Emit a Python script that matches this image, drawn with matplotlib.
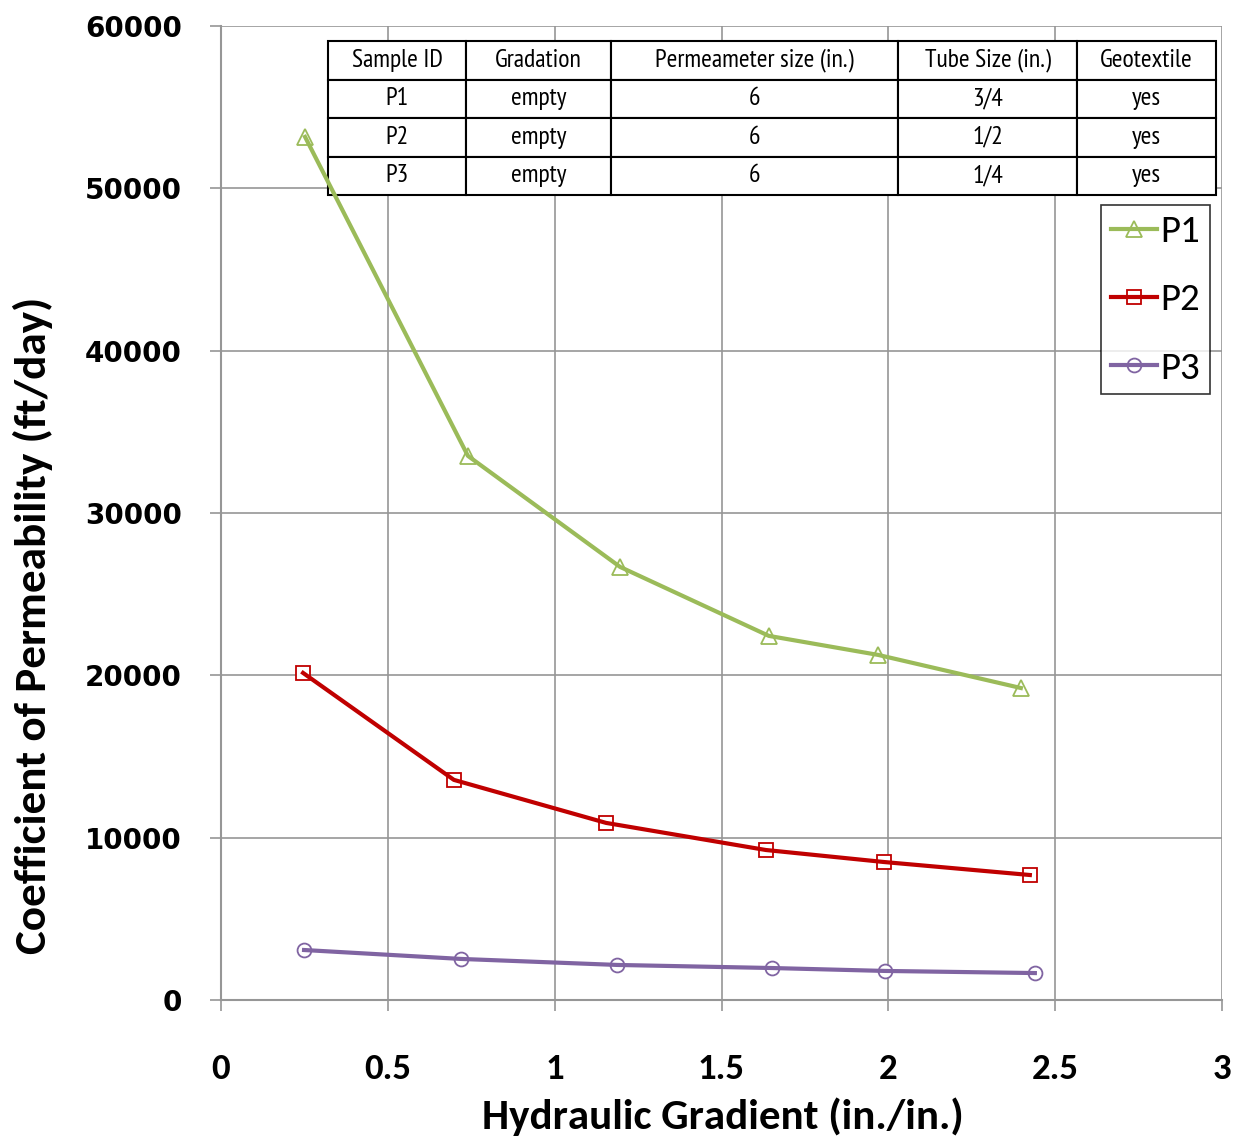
import matplotlib
matplotlib.use("Agg")
import matplotlib.pyplot as plt
from matplotlib.legend_handler import HandlerTuple

# data
p1_x = [0.252, 0.740, 1.196, 1.642, 1.969, 2.397]
p1_y = [53170, 33520, 26680, 22430, 21260, 19220]
p2_x = [0.246, 0.698, 1.154, 1.633, 1.987, 2.424]
p2_y = [20150, 13560, 10910, 9240, 8500, 7700]
p3_x = [0.249, 0.719, 1.187, 1.651, 1.990, 2.439]
p3_y = [3080, 2530, 2160, 1970, 1790, 1660]

table_cols = ["Sample ID", "Gradation", "Permeameter size (in.)", "Tube Size (in.)", "Geotextile"]
table_rows = [
    ["P1", "empty", "6", "3/4", "yes"],
    ["P2", "empty", "6", "1/2", "yes"],
    ["P3", "empty", "6", "1/4", "yes"],
]

calibri = ["Carlito", "DejaVu Sans"]
narrow = ["PT Sans Narrow", "DejaVu Sans"]

fig = plt.figure(figsize=(12.47, 11.46), dpi=100)
ax = fig.add_axes([0.1772, 0.1274, 0.8028, 0.8499])

# markers first, line drawn on top like the original
handles = []
for xs, ys, col, mk, ms in [(p1_x, p1_y, "#9BBB59", "^", 11),
                            (p2_x, p2_y, "#C00000", "s", 10),
                            (p3_x, p3_y, "#8064A2", "o", 10)]:
    m, = ax.plot(xs, ys, ls="none", marker=mk, ms=ms, mfc="white", mec=col,
                 mew=1.3, zorder=4)
    l, = ax.plot(xs, ys, color=col, lw=3, zorder=5)
    handles.append((m, l))

ax.set_xlim(0, 3)
ax.set_ylim(0, 60000)
ax.set_xticks([0, 0.5, 1, 1.5, 2, 2.5, 3])
ax.set_xticklabels(["0", "0.5", "1", "1.5", "2", "2.5", "3"])
ax.set_yticks(range(0, 60001, 10000))
ax.grid(True, color="#969696", lw=1.2)
ax.set_axisbelow(True)
for s in ["top", "right"]:
    ax.spines[s].set_visible(False)
for s in ["left", "bottom"]:
    ax.spines[s].set_color("#969696")
    ax.spines[s].set_linewidth(1.5)
ax.tick_params(axis="both", color="#969696", width=1.2, length=8)
ax.tick_params(axis="x", pad=30)
ax.tick_params(axis="y", pad=20)

for lab in ax.get_yticklabels():
    lab.set_fontfamily("DejaVu Sans")
    lab.set_fontweight("bold")
    lab.set_fontsize(20)
for lab in ax.get_xticklabels():
    lab.set_fontfamily(calibri)
    lab.set_fontweight("bold")
    lab.set_fontsize(26.5)

ax.set_xlabel("Hydraulic Gradient (in./in.)", family=calibri, fontweight="bold",
              fontsize=31)
ax.set_ylabel("Coefficient of Permeability (ft/day)", family=calibri, fontweight="bold",
              fontsize=32.5)
ax.xaxis.set_label_coords(0.5015, -0.100)
ax.yaxis.set_label_coords(-0.168, 0.385)

leg = ax.legend(handles, ["P1", "P2", "P3"], handler_map={tuple: HandlerTuple(ndivide=1)},
                loc="upper right", bbox_to_anchor=(0.988, 0.816),
                prop={"family": calibri, "size": 28},
                frameon=True, fancybox=False, edgecolor="black", handlelength=1.2,
                handletextpad=0.08, labelspacing=0.9, borderpad=0.25, borderaxespad=0)
leg.get_frame().set_linewidth(1.2)
leg.set_zorder(6)

tbl = ax.table(cellText=table_rows, colLabels=table_cols, cellLoc="center",
               colWidths=[138 / 888, 145 / 888, 287 / 888, 179 / 888, 139 / 888],
               bbox=[0.107, 0.8265, 0.887, 0.1581])
tbl.set_zorder(3)
tbl.auto_set_font_size(False)
for (r, c), cell in tbl.get_celld().items():
    cell.set_facecolor("white")
    cell.set_edgecolor("black")
    cell.set_linewidth(1.5)
    cell.get_text().set_fontsize(18.5)
    cell.get_text().set_fontfamily(narrow)

plt.savefig("out.png", dpi=100)
